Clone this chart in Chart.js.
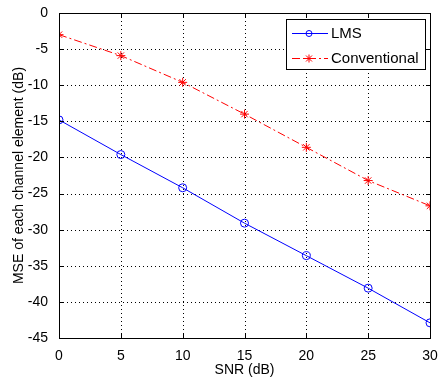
<!DOCTYPE html>
<html>
<head>
<meta charset="utf-8">
<script src="https://cdn.jsdelivr.net/npm/chart.js@4"></script>
<style>
  html, body { margin: 0; padding: 0; background: #fff; }
  #wrap { width: 446px; height: 382px; }
</style>
</head>
<body>
<div id="wrap"><canvas id="mseChart" width="446" height="382"></canvas></div>
<script>
// SNR points (dB)
const snr = [0, 5, 10, 15, 20, 25, 30];
// MSE values (dB)
const lmsMse = [-14.8, -19.6, -24.2, -29.1, -33.6, -38.1, -42.9];
const convMse = [-3.0, -5.9, -9.6, -14.0, -18.6, -23.2, -26.7];
const xTicks = [0, 5, 10, 15, 20, 25, 30];
const yTicks = [0, -5, -10, -15, -20, -25, -30, -35, -40, -45];

const FONT = 'Liberation Sans, Arial, Helvetica, sans-serif';

// dotted grid, frame, inward ticks and the boxed legend, matlab style
const matlabBox = {
    id: 'matlabBox',
    beforeDatasetsDraw(chart) {
        const { ctx, chartArea: a, scales } = chart;
        ctx.save();
        ctx.strokeStyle = '#000';
        ctx.lineWidth = 1;
        ctx.setLineDash([1, 3]);
        ctx.beginPath();
        xTicks.forEach(v => {
            const x = Math.round(scales.x.getPixelForValue(v)) + 0.5;
            ctx.moveTo(x, a.top); ctx.lineTo(x, a.bottom);
        });
        yTicks.forEach(v => {
            const y = Math.round(scales.y.getPixelForValue(v)) + 0.5;
            ctx.moveTo(a.left, y); ctx.lineTo(a.right, y);
        });
        ctx.stroke();
        ctx.restore();
    },
    afterDraw(chart) {
        const { ctx, chartArea: a, scales } = chart;
        ctx.save();
        ctx.strokeStyle = '#000';
        ctx.lineWidth = 1;
        ctx.setLineDash([]);
        ctx.strokeRect(Math.round(a.left) + 0.5, Math.round(a.top) + 0.5,
            Math.round(a.right - a.left), Math.round(a.bottom - a.top));
        ctx.beginPath();
        xTicks.forEach(v => {
            const x = Math.round(scales.x.getPixelForValue(v)) + 0.5;
            ctx.moveTo(x, a.bottom); ctx.lineTo(x, a.bottom - 4);
            ctx.moveTo(x, a.top); ctx.lineTo(x, a.top + 4);
        });
        yTicks.forEach(v => {
            const y = Math.round(scales.y.getPixelForValue(v)) + 0.5;
            ctx.moveTo(a.left, y); ctx.lineTo(a.left + 4, y);
            ctx.moveTo(a.right, y); ctx.lineTo(a.right - 4, y);
        });
        ctx.stroke();

        // legend
        const lx = 286, ly = 19, lw = 139, lh = 50;
        ctx.fillStyle = '#fff';
        ctx.fillRect(lx, ly, lw, lh);
        ctx.strokeRect(lx + 0.5, ly + 0.5, lw, lh);
        ctx.font = '15px ' + FONT;
        ctx.textBaseline = 'middle';
        chart.data.datasets.forEach((ds, i) => {
            const y = ly + 14 + i * 25;
            ctx.strokeStyle = ds.borderColor;
            ctx.setLineDash(ds.borderDash || []);
            ctx.beginPath();
            ctx.moveTo(lx + 6, y + 0.5); ctx.lineTo(lx + 42, y + 0.5);
            ctx.stroke();
            ctx.setLineDash([]);
            const cx = lx + 23;
            if (ds.pointStyle === 'circle') {
                ctx.beginPath();
                ctx.arc(cx, y + 0.5, 3, 0, Math.PI * 2);
                ctx.stroke();
            } else {
                ctx.beginPath();
                ctx.moveTo(cx - 4, y + 0.5); ctx.lineTo(cx + 4, y + 0.5);
                ctx.moveTo(cx, y - 3.5); ctx.lineTo(cx, y + 4.5);
                ctx.moveTo(cx - 3, y - 2.5); ctx.lineTo(cx + 3, y + 3.5);
                ctx.moveTo(cx + 3, y - 2.5); ctx.lineTo(cx - 3, y + 3.5);
                ctx.stroke();
            }
            ctx.fillStyle = '#000';
            ctx.fillText(ds.label, lx + 45, y + 1);
        });
        ctx.restore();
    }
};

new Chart(document.getElementById('mseChart'), {
    type: 'line',
    data: {
        datasets: [{
            label: 'LMS',
            data: snr.map((s, i) => ({ x: s, y: lmsMse[i] })),
            borderColor: '#0000ff',
            backgroundColor: 'rgba(0,0,0,0)',
            borderWidth: 1,
            pointStyle: 'circle',
            pointRadius: 4,
            pointBorderWidth: 1,
            tension: 0
        }, {
            label: 'Conventional',
            data: snr.map((s, i) => ({ x: s, y: convMse[i] })),
            borderColor: '#ff0000',
            backgroundColor: 'rgba(0,0,0,0)',
            borderWidth: 1,
            borderDash: [8, 3, 2, 3],
            pointStyle: 'star',
            pointRadius: 4.5,
            pointBorderWidth: 1,
            tension: 0
        }]
    },
    options: {
        responsive: false,
        animation: false,
        layout: { padding: { top: 13, right: 16, left: 11, bottom: 0 } },
        plugins: { legend: { display: false }, tooltip: { enabled: false } },
        scales: {
            x: {
                type: 'linear',
                min: 0, max: 30,
                afterBuildTicks: s => { s.ticks = xTicks.map(v => ({ value: v })); },
                afterFit: s => { s.height = 44; },
                grid: { display: false },
                border: { display: false },
                ticks: { color: '#000', font: { family: FONT, size: 14 }, padding: 2, maxRotation: 0 },
                title: { display: true, text: 'SNR (dB)', color: '#000', font: { family: FONT, size: 14 }, padding: { top: 0, bottom: 3 } }
            },
            y: {
                type: 'linear',
                min: -45, max: 0,
                afterBuildTicks: s => { s.ticks = yTicks.map(v => ({ value: v })); },
                afterFit: s => { s.width = 48; },
                grid: { display: false },
                border: { display: false },
                ticks: { color: '#000', font: { family: FONT, size: 14 }, padding: 3 },
                title: { display: true, text: 'MSE of each channel element (dB)', color: '#000', font: { family: FONT, size: 14 }, padding: { top: 0, bottom: 2 } }
            }
        }
    },
    plugins: [matlabBox]
});
</script>
</body>
</html>
